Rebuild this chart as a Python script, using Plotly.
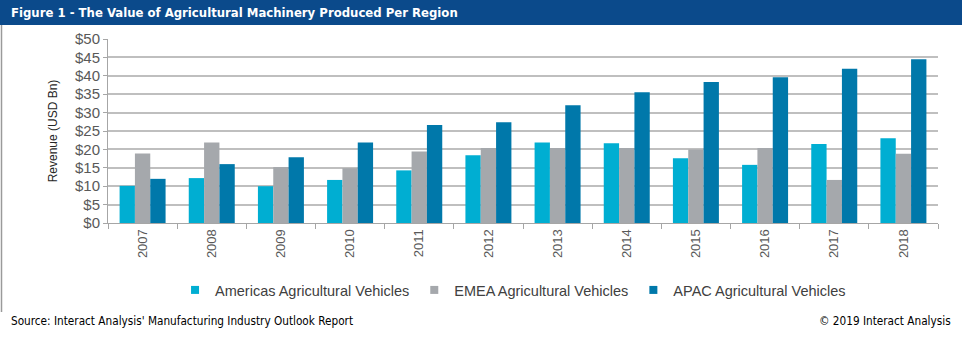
import plotly.graph_objects as go

# Revenue by region, USD billions
years = ["2007", "2008", "2009", "2010", "2011", "2012",
         "2013", "2014", "2015", "2016", "2017", "2018"]
americas = [10.1, 12.2, 10.0, 11.7, 14.3, 18.4, 21.9, 21.7, 17.6, 15.8, 21.5, 23.0]
emea = [18.9, 21.9, 15.2, 14.9, 19.4, 20.4, 20.4, 20.4, 20.0, 20.4, 11.7, 18.8]
apac = [12.0, 16.0, 17.9, 21.9, 26.6, 27.4, 32.0, 35.5, 38.3, 39.6, 41.9, 44.5]

series_names = ["Americas Agricultural Vehicles",
                "EMEA Agricultural Vehicles",
                "APAC Agricultural Vehicles"]
series_values = [americas, emea, apac]
series_colors = ["#00AED2", "#A5A8AC", "#0078AA"]

y_ticks = list(range(0, 55, 5))
y_tick_labels = [f"${v}" for v in y_ticks]

W, H = 962, 337
L, R, T, B = 108, 24, 39, 114
PW, PH = W - L - R, H - T - B


def px_x(p):
    return (p - L) / PW


def px_y(p):
    return (H - B - p) / PH


NARROW = "DejaVu Sans Condensed, Arial Narrow, sans-serif"
SANS = "Liberation Sans, Arial, sans-serif"

fig = go.Figure()
for name, vals, col in zip(series_names, series_values, series_colors):
    fig.add_trace(go.Bar(x=years, y=vals, name=name, marker_color=col,
                         marker_line_width=0, showlegend=False))
    # small square legend swatch
    fig.add_trace(go.Scatter(x=[None], y=[None], mode="markers", name=name,
                             marker=dict(symbol="square", size=8, color=col)))

fig.update_layout(
    width=W, height=H,
    margin=dict(l=L, r=R, t=T, b=B, pad=0),
    paper_bgcolor="white", plot_bgcolor="white",
    barmode="group", bargap=0.335, bargroupgap=0,
    showlegend=True,
    legend=dict(orientation="h", x=0.488, xanchor="center",
                y=px_y(290), yanchor="middle",
                font=dict(family=SANS, size=14.5, color="#404040"),
                itemwidth=30, tracegroupgap=0),
    xaxis=dict(
        type="category", categoryorder="array", categoryarray=years,
        showline=True, linecolor="#A6A6A6", linewidth=1,
        ticks="outside", tickson="boundaries", ticklen=5, tickcolor="#A6A6A6",
        tickangle=-90, tickfont=dict(family=SANS, size=13, color="#595959"),
        showgrid=False,
    ),
    yaxis=dict(
        range=[0, 50], tickvals=y_ticks, ticktext=y_tick_labels,
        showline=True, linecolor="#A6A6A6", linewidth=1,
        ticks="outside", ticklen=4, tickcolor="#A6A6A6",
        tickfont=dict(family=SANS, size=15, color="#595959"),
        showgrid=True, gridcolor="#BFBFBF", gridwidth=1.5,
        zeroline=False,
        title=dict(text="Revenue (USD Bn)", standoff=14,
                   font=dict(family=SANS, size=12, color="#262626")),
    ),
)

# header band
fig.add_shape(type="rect", xref="paper", yref="paper",
              x0=px_x(0), x1=px_x(W), y0=px_y(25), y1=px_y(0),
              fillcolor="#0B4A8B", line_width=0, layer="above")
fig.add_annotation(text="<b>Figure 1 - The Value of Agricultural Machinery Produced Per Region</b>",
                   xref="paper", yref="paper", x=px_x(9), y=px_y(12.5),
                   xanchor="left", yanchor="middle", showarrow=False,
                   font=dict(family=NARROW, size=13, color="white"))
# left frame line
fig.add_shape(type="line", xref="paper", yref="paper",
              x0=px_x(1.5), x1=px_x(1.5), y0=px_y(25), y1=px_y(312),
              line=dict(color="#9A9A9A", width=1.5))

# footer texts
fig.add_annotation(text="Source: Interact Analysis' Manufacturing Industry Outlook Report",
                   xref="paper", yref="paper", x=px_x(9), y=px_y(321),
                   xanchor="left", yanchor="middle", showarrow=False,
                   font=dict(family=NARROW, size=11.7, color="black"))
fig.add_annotation(text="© 2019 Interact Analysis",
                   xref="paper", yref="paper", x=px_x(953), y=px_y(321),
                   xanchor="right", yanchor="middle", showarrow=False,
                   font=dict(family=NARROW, size=11.7, color="black"))

fig.write_html("out.html")
